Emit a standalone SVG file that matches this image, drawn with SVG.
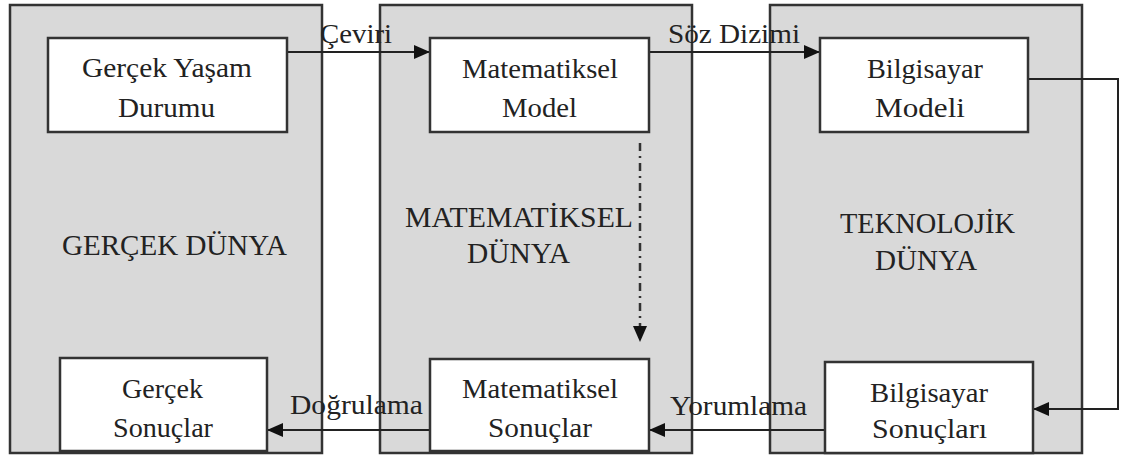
<svg xmlns="http://www.w3.org/2000/svg" width="1122" height="456" viewBox="0 0 1122 456">
  <style>
    .panel { fill: #d9d9d9; stroke: #333333; stroke-width: 2.5; }
    .box { fill: #ffffff; stroke: #333333; stroke-width: 2.5; }
    text { font-family: "Liberation Serif", "Times New Roman", serif; fill: #222222; }
    .t { font-size: 27px; }
    .lbl { font-size: 27px; }
    .big { font-size: 29px; }
    .wire { fill: none; stroke: #222222; stroke-width: 2; }
    .dash { fill: none; stroke: #333333; stroke-width: 2.5; stroke-dasharray: 8 5 2 5; }
  </style>
  <defs>
    <marker id="arrow" viewBox="0 0 16 14" refX="16" refY="7" markerWidth="16" markerHeight="14" markerUnits="userSpaceOnUse" orient="auto">
      <path d="M0,0 L16,7 L0,14 Z" fill="#111111"/>
    </marker>
  </defs>

  <rect width="1122" height="456" fill="#ffffff"/>

  <!-- three worlds -->
  <g id="gercek-dunya">
    <rect class="panel" x="10" y="5" width="312" height="448"/>
    <text class="big" x="62" y="255" textLength="225" lengthAdjust="spacingAndGlyphs">GERÇEK DÜNYA</text>
  </g>
  <g id="matematiksel-dunya">
    <rect class="panel" x="380" y="5" width="312" height="448"/>
    <text class="big" x="405" y="227" textLength="228" lengthAdjust="spacingAndGlyphs">MATEMATİKSEL</text>
    <text class="big" x="467" y="263" textLength="103" lengthAdjust="spacingAndGlyphs">DÜNYA</text>
  </g>
  <g id="teknolojik-dunya">
    <rect class="panel" x="770" y="5" width="312" height="448"/>
    <text class="big" x="840" y="233" textLength="175" lengthAdjust="spacingAndGlyphs">TEKNOLOJİK</text>
    <text class="big" x="875" y="270" textLength="102" lengthAdjust="spacingAndGlyphs">DÜNYA</text>
  </g>

  <!-- connectors -->
  <g id="connectors">
    <line class="wire" x1="287" y1="52" x2="430" y2="52" marker-end="url(#arrow)"/>
    <line class="wire" x1="649" y1="52" x2="820" y2="52" marker-end="url(#arrow)"/>
    <polyline class="wire" points="1028,79 1118,79 1118,409 1033,409" marker-end="url(#arrow)"/>
    <line class="wire" x1="825" y1="430" x2="649" y2="430" marker-end="url(#arrow)"/>
    <line class="wire" x1="430" y1="430" x2="267" y2="430" marker-end="url(#arrow)"/>
    <line class="dash" x1="640" y1="143" x2="640" y2="342" marker-end="url(#arrow)"/>
    <text class="lbl" x="320" y="43" textLength="72" lengthAdjust="spacingAndGlyphs">Çeviri</text>
    <text class="lbl" x="668" y="43" textLength="132" lengthAdjust="spacingAndGlyphs">Söz Dizimi</text>
    <text class="lbl" x="290" y="414" textLength="133" lengthAdjust="spacingAndGlyphs">Doğrulama</text>
    <text class="lbl" x="670" y="415" textLength="137" lengthAdjust="spacingAndGlyphs">Yorumlama</text>
  </g>

  <!-- stages -->
  <g id="gercek-yasam-durumu">
    <rect class="box" x="48" y="38" width="239" height="94"/>
    <text class="t" x="82" y="77" textLength="170" lengthAdjust="spacingAndGlyphs">Gerçek Yaşam</text>
    <text class="t" x="118" y="117" textLength="97" lengthAdjust="spacingAndGlyphs">Durumu</text>
  </g>
  <g id="matematiksel-model">
    <rect class="box" x="430" y="38" width="219" height="94"/>
    <text class="t" x="462" y="78" textLength="156" lengthAdjust="spacingAndGlyphs">Matematiksel</text>
    <text class="t" x="502" y="117" textLength="75" lengthAdjust="spacingAndGlyphs">Model</text>
  </g>
  <g id="bilgisayar-modeli">
    <rect class="box" x="820" y="38" width="208" height="94"/>
    <text class="t" x="867" y="78" textLength="116" lengthAdjust="spacingAndGlyphs">Bilgisayar</text>
    <text class="t" x="875" y="117" textLength="90" lengthAdjust="spacingAndGlyphs">Modeli</text>
  </g>
  <g id="gercek-sonuclar">
    <rect class="box" x="60" y="358" width="207" height="93"/>
    <text class="t" x="122" y="398" textLength="81" lengthAdjust="spacingAndGlyphs">Gerçek</text>
    <text class="t" x="113" y="437" textLength="100" lengthAdjust="spacingAndGlyphs">Sonuçlar</text>
  </g>
  <g id="matematiksel-sonuclar">
    <rect class="box" x="430" y="359" width="219" height="92"/>
    <text class="t" x="462" y="398" textLength="156" lengthAdjust="spacingAndGlyphs">Matematiksel</text>
    <text class="t" x="488" y="437" textLength="104" lengthAdjust="spacingAndGlyphs">Sonuçlar</text>
  </g>
  <g id="bilgisayar-sonuclari">
    <rect class="box" x="825" y="362" width="208" height="91"/>
    <text class="t" x="870" y="402" textLength="118" lengthAdjust="spacingAndGlyphs">Bilgisayar</text>
    <text class="t" x="872" y="438" textLength="115" lengthAdjust="spacingAndGlyphs">Sonuçları</text>
  </g>
</svg>
